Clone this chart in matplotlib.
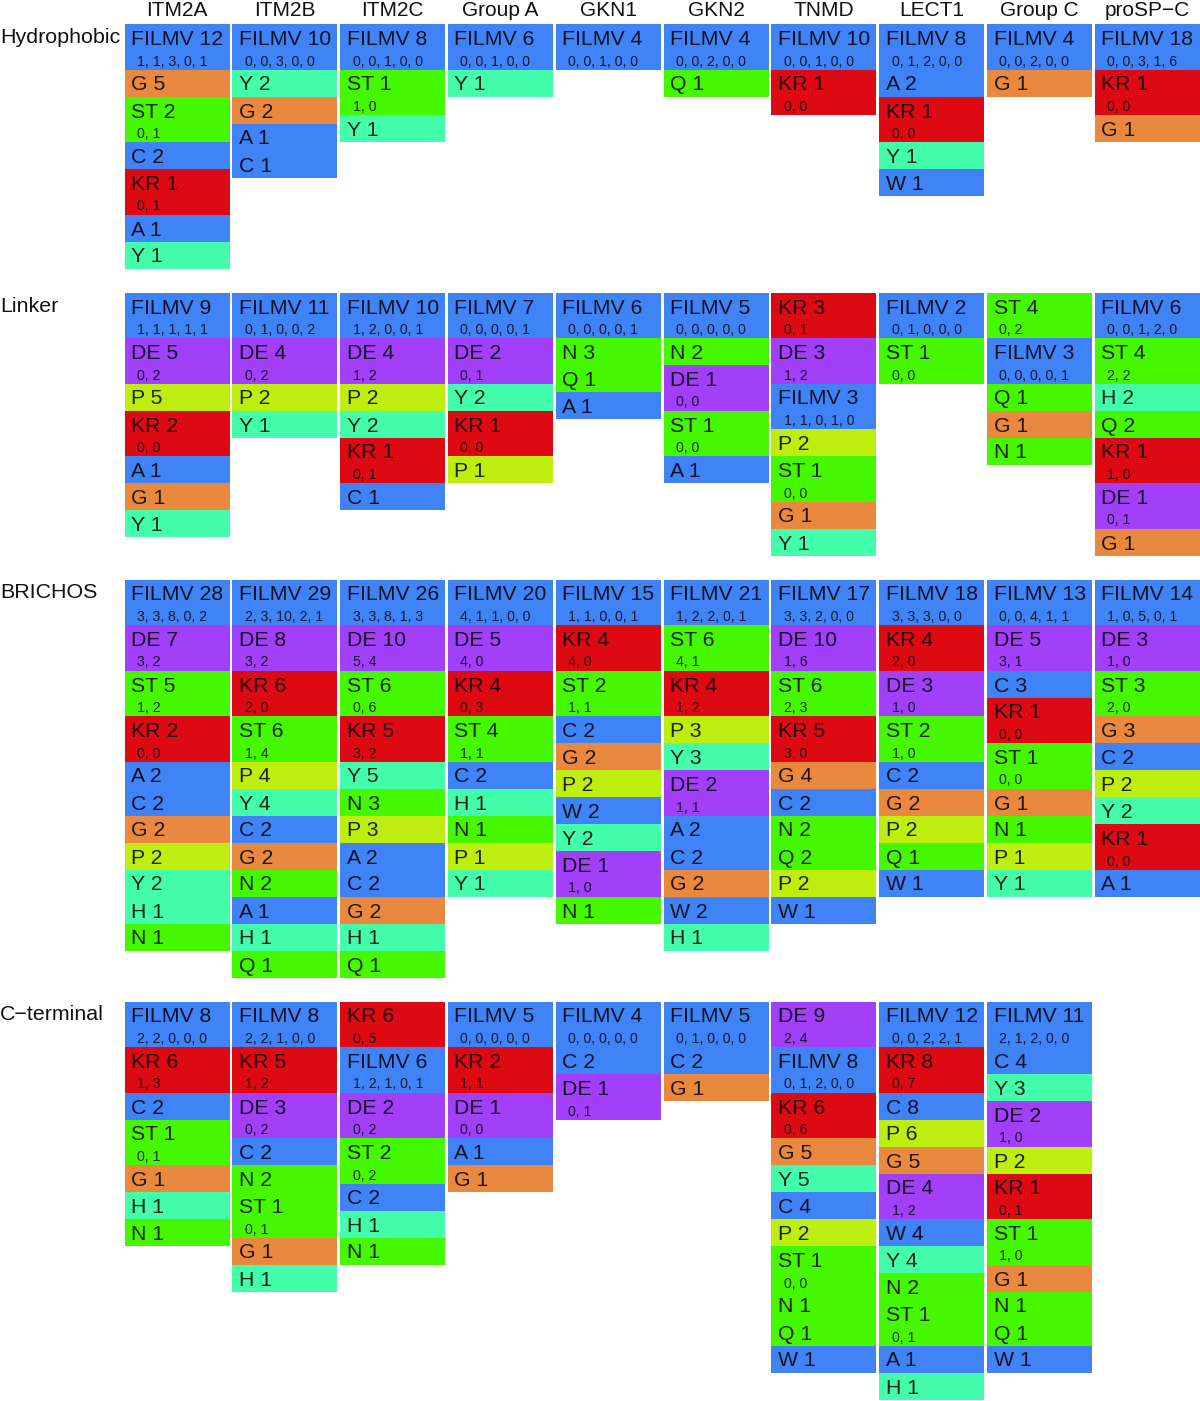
import matplotlib
matplotlib.use("Agg")
import matplotlib.pyplot as plt

plt.rcParams['font.family'] = ['Liberation Sans', 'DejaVu Sans']

# ---------------- data ----------------
proteins = ["ITM2A", "ITM2B", "ITM2C", "Group A", "GKN1", "GKN2",
            "TNMD", "LECT1", "Group C", "proSP\u2212C"]
regions = ["Hydrophobic", "Linker", "BRICHOS", "C\u2212terminal"]

# each cell: (residue group, count, sub-counts text or "")
hydrophobic = [
    [("FILMV", 12, "1, 1, 3, 0, 1"), ("G", 5, ""), ("ST", 2, "0, 1"), ("C", 2, ""),
     ("KR", 1, "0, 1"), ("A", 1, ""), ("Y", 1, "")],
    [("FILMV", 10, "0, 0, 3, 0, 0"), ("Y", 2, ""), ("G", 2, ""), ("A", 1, ""), ("C", 1, "")],
    [("FILMV", 8, "0, 0, 1, 0, 0"), ("ST", 1, "1, 0"), ("Y", 1, "")],
    [("FILMV", 6, "0, 0, 1, 0, 0"), ("Y", 1, "")],
    [("FILMV", 4, "0, 0, 1, 0, 0")],
    [("FILMV", 4, "0, 0, 2, 0, 0"), ("Q", 1, "")],
    [("FILMV", 10, "0, 0, 1, 0, 0"), ("KR", 1, "0, 0")],
    [("FILMV", 8, "0, 1, 2, 0, 0"), ("A", 2, ""), ("KR", 1, "0, 0"), ("Y", 1, ""), ("W", 1, "")],
    [("FILMV", 4, "0, 0, 2, 0, 0"), ("G", 1, "")],
    [("FILMV", 18, "0, 0, 3, 1, 6"), ("KR", 1, "0, 0"), ("G", 1, "")],
]

linker = [
    [("FILMV", 9, "1, 1, 1, 1, 1"), ("DE", 5, "0, 2"), ("P", 5, ""), ("KR", 2, "0, 0"),
     ("A", 1, ""), ("G", 1, ""), ("Y", 1, "")],
    [("FILMV", 11, "0, 1, 0, 0, 2"), ("DE", 4, "0, 2"), ("P", 2, ""), ("Y", 1, "")],
    [("FILMV", 10, "1, 2, 0, 0, 1"), ("DE", 4, "1, 2"), ("P", 2, ""), ("Y", 2, ""),
     ("KR", 1, "0, 1"), ("C", 1, "")],
    [("FILMV", 7, "0, 0, 0, 0, 1"), ("DE", 2, "0, 1"), ("Y", 2, ""), ("KR", 1, "0, 0"), ("P", 1, "")],
    [("FILMV", 6, "0, 0, 0, 0, 1"), ("N", 3, ""), ("Q", 1, ""), ("A", 1, "")],
    [("FILMV", 5, "0, 0, 0, 0, 0"), ("N", 2, ""), ("DE", 1, "0, 0"), ("ST", 1, "0, 0"), ("A", 1, "")],
    [("KR", 3, "0, 1"), ("DE", 3, "1, 2"), ("FILMV", 3, "1, 1, 0, 1, 0"), ("P", 2, ""),
     ("ST", 1, "0, 0"), ("G", 1, ""), ("Y", 1, "")],
    [("FILMV", 2, "0, 1, 0, 0, 0"), ("ST", 1, "0, 0")],
    [("ST", 4, "0, 2"), ("FILMV", 3, "0, 0, 0, 0, 1"), ("Q", 1, ""), ("G", 1, ""), ("N", 1, "")],
    [("FILMV", 6, "0, 0, 1, 2, 0"), ("ST", 4, "2, 2"), ("H", 2, ""), ("Q", 2, ""),
     ("KR", 1, "1, 0"), ("DE", 1, "0, 1"), ("G", 1, "")],
]

brichos = [
    [("FILMV", 28, "3, 3, 8, 0, 2"), ("DE", 7, "3, 2"), ("ST", 5, "1, 2"), ("KR", 2, "0, 0"),
     ("A", 2, ""), ("C", 2, ""), ("G", 2, ""), ("P", 2, ""), ("Y", 2, ""), ("H", 1, ""), ("N", 1, "")],
    [("FILMV", 29, "2, 3, 10, 2, 1"), ("DE", 8, "3, 2"), ("KR", 6, "2, 0"), ("ST", 6, "1, 4"),
     ("P", 4, ""), ("Y", 4, ""), ("C", 2, ""), ("G", 2, ""), ("N", 2, ""), ("A", 1, ""),
     ("H", 1, ""), ("Q", 1, "")],
    [("FILMV", 26, "3, 3, 8, 1, 3"), ("DE", 10, "5, 4"), ("ST", 6, "0, 6"), ("KR", 5, "3, 2"),
     ("Y", 5, ""), ("N", 3, ""), ("P", 3, ""), ("A", 2, ""), ("C", 2, ""), ("G", 2, ""),
     ("H", 1, ""), ("Q", 1, "")],
    [("FILMV", 20, "4, 1, 1, 0, 0"), ("DE", 5, "4, 0"), ("KR", 4, "0, 3"), ("ST", 4, "1, 1"),
     ("C", 2, ""), ("H", 1, ""), ("N", 1, ""), ("P", 1, ""), ("Y", 1, "")],
    [("FILMV", 15, "1, 1, 0, 0, 1"), ("KR", 4, "4, 0"), ("ST", 2, "1, 1"), ("C", 2, ""),
     ("G", 2, ""), ("P", 2, ""), ("W", 2, ""), ("Y", 2, ""), ("DE", 1, "1, 0"), ("N", 1, "")],
    [("FILMV", 21, "1, 2, 2, 0, 1"), ("ST", 6, "4, 1"), ("KR", 4, "1, 2"), ("P", 3, ""),
     ("Y", 3, ""), ("DE", 2, "1, 1"), ("A", 2, ""), ("C", 2, ""), ("G", 2, ""), ("W", 2, ""),
     ("H", 1, "")],
    [("FILMV", 17, "3, 3, 2, 0, 0"), ("DE", 10, "1, 6"), ("ST", 6, "2, 3"), ("KR", 5, "3, 0"),
     ("G", 4, ""), ("C", 2, ""), ("N", 2, ""), ("Q", 2, ""), ("P", 2, ""), ("W", 1, "")],
    [("FILMV", 18, "3, 3, 3, 0, 0"), ("KR", 4, "2, 0"), ("DE", 3, "1, 0"), ("ST", 2, "1, 0"),
     ("C", 2, ""), ("G", 2, ""), ("P", 2, ""), ("Q", 1, ""), ("W", 1, "")],
    [("FILMV", 13, "0, 0, 4, 1, 1"), ("DE", 5, "3, 1"), ("C", 3, ""), ("KR", 1, "0, 0"),
     ("ST", 1, "0, 0"), ("G", 1, ""), ("N", 1, ""), ("P", 1, ""), ("Y", 1, "")],
    [("FILMV", 14, "1, 0, 5, 0, 1"), ("DE", 3, "1, 0"), ("ST", 3, "2, 0"), ("G", 3, ""),
     ("C", 2, ""), ("P", 2, ""), ("Y", 2, ""), ("KR", 1, "0, 0"), ("A", 1, "")],
]

c_terminal = [
    [("FILMV", 8, "2, 2, 0, 0, 0"), ("KR", 6, "1, 3"), ("C", 2, ""), ("ST", 1, "0, 1"),
     ("G", 1, ""), ("H", 1, ""), ("N", 1, "")],
    [("FILMV", 8, "2, 2, 1, 0, 0"), ("KR", 5, "1, 2"), ("DE", 3, "0, 2"), ("C", 2, ""),
     ("N", 2, ""), ("ST", 1, "0, 1"), ("G", 1, ""), ("H", 1, "")],
    [("KR", 6, "0, 5"), ("FILMV", 6, "1, 2, 1, 0, 1"), ("DE", 2, "0, 2"), ("ST", 2, "0, 2"),
     ("C", 2, ""), ("H", 1, ""), ("N", 1, "")],
    [("FILMV", 5, "0, 0, 0, 0, 0"), ("KR", 2, "1, 1"), ("DE", 1, "0, 0"), ("A", 1, ""), ("G", 1, "")],
    [("FILMV", 4, "0, 0, 0, 0, 0"), ("C", 2, ""), ("DE", 1, "0, 1")],
    [("FILMV", 5, "0, 1, 0, 0, 0"), ("C", 2, ""), ("G", 1, "")],
    [("DE", 9, "2, 4"), ("FILMV", 8, "0, 1, 2, 0, 0"), ("KR", 6, "0, 6"), ("G", 5, ""),
     ("Y", 5, ""), ("C", 4, ""), ("P", 2, ""), ("ST", 1, "0, 0"), ("N", 1, ""), ("Q", 1, ""),
     ("W", 1, "")],
    [("FILMV", 12, "0, 0, 2, 2, 1"), ("KR", 8, "0, 7"), ("C", 8, ""), ("P", 6, ""), ("G", 5, ""),
     ("DE", 4, "1, 2"), ("W", 4, ""), ("Y", 4, ""), ("N", 2, ""), ("ST", 1, "0, 1"),
     ("A", 1, ""), ("H", 1, "")],
    [("FILMV", 11, "2, 1, 2, 0, 0"), ("C", 4, ""), ("Y", 3, ""), ("DE", 2, "1, 0"), ("P", 2, ""),
     ("KR", 1, "0, 1"), ("ST", 1, "1, 0"), ("G", 1, ""), ("N", 1, ""), ("Q", 1, ""), ("W", 1, "")],
    [],
]

sections = [hydrophobic, linker, brichos, c_terminal]

# ---------------- style ----------------
BLUE, ORANGE, GREEN = "#3F83F7", "#E8893F", "#45F800"
RED, AQUA, PURPLE, YGREEN = "#DE0A13", "#44FDAA", "#A13FF9", "#BEEE0F"
group_colors = {"FILMV": BLUE, "A": BLUE, "C": BLUE, "W": BLUE,
                "G": ORANGE, "ST": GREEN, "N": GREEN, "Q": GREEN,
                "KR": RED, "Y": AQUA, "H": AQUA, "DE": PURPLE, "P": YGREEN}

W_PX, H_PX = 1200, 1401
ROW_H, SUB_H = 27.0, 18.5
TOP0, GAP = 24.0, 24.0
COL_X0, COL_STEP, COL_W = 124.5, 107.8, 105.0

fig = plt.figure(figsize=(W_PX / 100, H_PX / 100), dpi=100)
ax = fig.add_axes([0, 0, 1, 1])
ax.set_xlim(0, W_PX)
ax.set_ylim(H_PX, 0)
ax.axis("off")

for i, name in enumerate(proteins):
    ax.text(COL_X0 + i * COL_STEP + COL_W / 2, 16, name, ha="center", va="baseline",
            fontsize=15, color="#111111")

top = TOP0
for region, cols in zip(regions, sections):
    ax.text(0, top + 19, region, ha="left", va="baseline", fontsize=15.4, color="#111111")
    max_h = 0
    for i, cells in enumerate(cols):
        x0 = COL_X0 + i * COL_STEP
        y = top
        for grp, cnt, sub in cells:
            h = ROW_H + (SUB_H if sub else 0)
            ax.bar(x0, h, width=COL_W, bottom=y, align="edge",
                   color=group_colors[grp], linewidth=0)
            ax.text(x0 + 6.6, y + 21, f"{grp} {cnt}", ha="left", va="baseline",
                    fontsize=15.3, color="black", alpha=0.85)
            if sub:
                ax.text(x0 + 12.5, y + 41.5, sub, ha="left", va="baseline",
                        fontsize=10.2, color="black", alpha=0.8)
            y += h
        max_h = max(max_h, y - top)
    top += max_h + GAP

fig.savefig("out.png", dpi=100)
